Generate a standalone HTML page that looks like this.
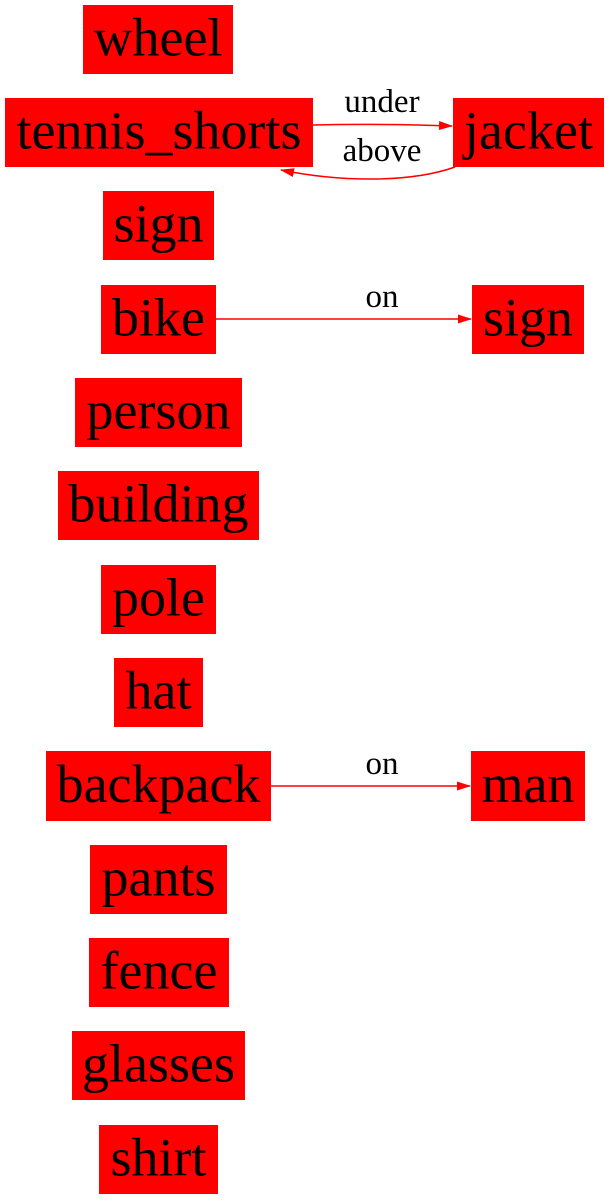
<!DOCTYPE html>
<html><head><meta charset="utf-8"><style>
html,body{margin:0;padding:0;background:#fff;}
svg{display:block;font-family:"Liberation Serif","Times New Roman",serif;}
</style></head><body>
<svg id="g" width="609" height="1200" viewBox="0 0 609 1200">
<defs><marker id="ah" markerWidth="14" markerHeight="9" refX="13" refY="4.5" orient="auto" markerUnits="userSpaceOnUse"><path d="M0,0 L14,4.5 L0,9 Z" fill="#f00"/></marker></defs>
</svg>
<script>
const nodeLabels=["wheel","tennis_shorts","jacket","sign","bike","sign","person","building","pole","hat","backpack","man","pants","fence","glasses","shirt"];
const nodeBoxes=[[83,5,150,69],[5,98,308,69],[453,98,151,69],[103,191,111,69],[101,285,115,69],[472,285,112,69],[75,378,167,69],[58,471,201,69],[101,565,115,69],[114,658,89,69],[46,751,225,70],[471,751,114,70],[90,845,137,69],[89,938,140,69],[72,1031,173,69],[99,1125,119,69]];
const svg=document.getElementById('g');
const NS='http://www.w3.org/2000/svg';
nodeLabels.forEach((t,i)=>{
  const [x,y,w,h]=nodeBoxes[i];
  const r=document.createElementNS(NS,'rect');
  r.setAttribute('x',x);r.setAttribute('y',y);r.setAttribute('width',w);r.setAttribute('height',h);r.setAttribute('fill','#f00');
  
  
  svg.appendChild(r);
  const tx=document.createElementNS(NS,'text');
  tx.setAttribute('x',x+w/2);tx.setAttribute('y',y+h/2+16);tx.setAttribute('text-anchor','middle');
  tx.setAttribute('font-size','54');tx.textContent=t;
  
  
  svg.appendChild(tx);
});
const edgePaths=["M313,125 C360,124 400,124 452,126","M455,167 C410,183 340,182 281,170","M216,319 L471,319","M271,786 L470,786"];
const edgeLabels=[["under",382,112],["above",382,161],["on",382,307],["on",382,774]];
edgePaths.forEach(d=>{
  const p=document.createElementNS(NS,'path');
  p.setAttribute('d',d);p.setAttribute('stroke','#f00');p.setAttribute('stroke-width','1.5');p.setAttribute('fill','none');p.setAttribute('marker-end','url(#ah)');
  
  
  svg.appendChild(p);
});
edgeLabels.forEach(([t,x,y])=>{
  const tx=document.createElementNS(NS,'text');
  tx.setAttribute('x',x);tx.setAttribute('y',y);tx.setAttribute('text-anchor','middle');tx.setAttribute('font-size','33');tx.textContent=t;
  
  
  svg.appendChild(tx);
});
</script>
</body></html>
